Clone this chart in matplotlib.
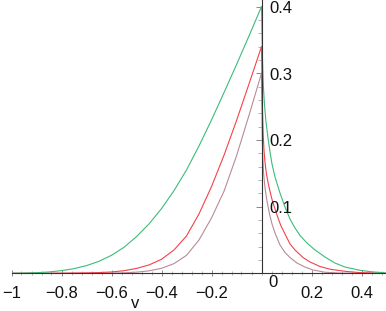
import matplotlib
matplotlib.use("Agg")
import matplotlib.pyplot as plt
from matplotlib.ticker import MultipleLocator

plt.rcParams['font.family'] = ['Liberation Sans', 'DejaVu Sans']

# ---- data ----
green_left_v = [-1.0, -0.95, -0.9, -0.85, -0.8, -0.75, -0.7, -0.65, -0.6, -0.55, -0.5,
                -0.45, -0.4, -0.35, -0.3, -0.25, -0.2, -0.15, -0.1, -0.05, 0.0]
green_left_f = [0.0, 0.0003, 0.0009, 0.002, 0.004, 0.007, 0.0115, 0.018, 0.027, 0.039, 0.055,
                0.074, 0.097, 0.124, 0.155, 0.191, 0.23, 0.271, 0.313, 0.356, 0.40]
green_right_v = [0.0, 0.002, 0.004, 0.0072, 0.012, 0.018, 0.026, 0.034, 0.042, 0.054, 0.074,
                 0.094, 0.114, 0.134, 0.154, 0.182, 0.214, 0.254, 0.294, 0.334, 0.394, 0.442, 0.494]
green_right_f = [0.40, 0.3575, 0.32, 0.2824, 0.2524, 0.227, 0.203, 0.182, 0.164, 0.1444, 0.1204,
                 0.0994, 0.0814, 0.068, 0.0567, 0.0454, 0.035, 0.0244, 0.0154, 0.0094, 0.0045,
                 0.0022, 0.0008]

red_left_v = [-1.0, -0.9, -0.8, -0.7, -0.65, -0.6, -0.55, -0.5, -0.45, -0.4,
              -0.35, -0.3, -0.25, -0.2, -0.15, -0.1, -0.05, 0.0]
red_left_f = [0.0, 0.0, 0.00015, 0.0006, 0.0011, 0.002, 0.0039, 0.0073, 0.0125, 0.021,
              0.035, 0.056, 0.089, 0.13, 0.177, 0.229, 0.284, 0.34]
red_right_v = [0.0, 0.002, 0.004, 0.0068, 0.010, 0.014, 0.020, 0.026, 0.034, 0.044, 0.054,
               0.066, 0.078, 0.094, 0.114, 0.134, 0.166, 0.194, 0.234, 0.274, 0.334, 0.394, 0.494]
red_right_f = [0.34, 0.29, 0.245, 0.2074, 0.1845, 0.1665, 0.1485, 0.1365, 0.123, 0.108, 0.0965,
               0.083, 0.071, 0.059, 0.044, 0.035, 0.0237, 0.017, 0.0102, 0.0061, 0.003, 0.001, 0.0]

brown_left_v = [-1.0, -0.8, -0.7, -0.6, -0.55, -0.5, -0.45, -0.4, -0.35, -0.3, -0.25,
                -0.2, -0.15, -0.1, -0.05, 0.0]
brown_left_f = [0.0, 0.0, 0.0, 0.0003, 0.0007, 0.0017, 0.0037, 0.0075, 0.0145, 0.027, 0.05,
                0.083, 0.123, 0.176, 0.237, 0.30]
brown_right_v = [0.0, 0.0016, 0.0028, 0.0048, 0.008, 0.014, 0.022, 0.032, 0.042, 0.054, 0.074,
                 0.094, 0.114, 0.142, 0.174, 0.206, 0.254, 0.314, 0.494]
brown_right_f = [0.30, 0.245, 0.2074, 0.1774, 0.152, 0.128, 0.1084, 0.089, 0.074, 0.0604, 0.0424,
                 0.0312, 0.0237, 0.0154, 0.0094, 0.005, 0.0016, 0.0003, 0.0]

x_ticks = [-1, -0.8, -0.6, -0.4, -0.2, 0.2, 0.4]
x_tick_labels = ["\u22121", "\u22120.8", "\u22120.6", "\u22120.4", "\u22120.2", "0.2", "0.4"]
y_ticks = [0.1, 0.2, 0.3, 0.4]
y_tick_labels = ["0.1", "0.2", "0.3", "0.4"]

GREEN = '#3dbb7a'
RED = '#f5414a'
BROWN = '#b98a98'

fig = plt.figure(figsize=(3.86, 3.11), dpi=100)
ax = fig.add_axes([11.5 / 386, 1 - 273.3 / 311, 375 / 386, 273.3 / 311])
ax.set_xlim(-1, 0.5)
ax.set_ylim(0, 273.3 / 666.7)

lw = 0.8
ax.plot(brown_left_v, brown_left_f, color=BROWN, lw=lw)
ax.plot(brown_right_v, brown_right_f, color=BROWN, lw=lw)
ax.plot(red_left_v, red_left_f, color=RED, lw=lw)
ax.plot(red_right_v, red_right_f, color=RED, lw=lw)
ax.plot(green_left_v, green_left_f, color=GREEN, lw=lw)
ax.plot(green_right_v, green_right_f, color=GREEN, lw=lw)

for s in ['top', 'right']:
    ax.spines[s].set_visible(False)
ax.spines['left'].set_position(('data', 0))
ax.spines['bottom'].set_position(('data', 0))
for s in ['left', 'bottom']:
    ax.spines[s].set_color('#333333')
    ax.spines[s].set_linewidth(0.8)

ax.set_xticks(x_ticks)
ax.set_xticklabels(x_tick_labels, fontsize=12, color='#111111')
ax.xaxis.set_minor_locator(MultipleLocator(0.04))
ax.tick_params(axis='x', which='major', direction='inout', length=5, width=0.6,
               color='#777777', pad=7)
ax.tick_params(axis='x', which='minor', direction='inout', length=3, width=0.5, color='#999999')

ax.set_yticks(y_ticks)
ax.set_yticklabels([])
ax.yaxis.set_minor_locator(MultipleLocator(0.02))
ax.tick_params(axis='y', which='major', direction='out', length=4, width=0.6, color='#777777')
ax.tick_params(axis='y', which='minor', direction='out', length=3, width=0.5, color='#999999')

for yv, lab in zip(y_ticks, y_tick_labels):
    ax.text(0.033, yv - 0.003, lab, fontsize=12, ha='left', va='center', color='#111111')
ax.text(0.046, -0.014, "0", fontsize=12, ha='center', va='center', color='#111111', clip_on=False)

fig.text(135 / 386, 1 - 303 / 311, "v", fontsize=12, ha='center', va='center', color='#111111')

fig.savefig("out.png", dpi=100)
